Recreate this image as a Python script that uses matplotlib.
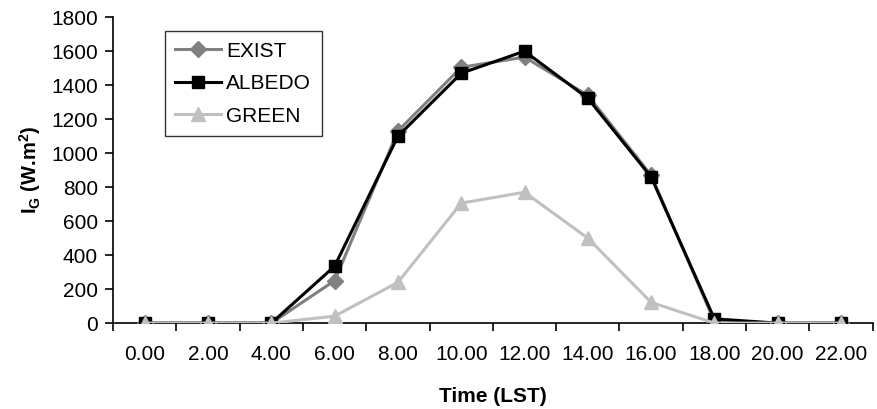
import matplotlib
matplotlib.use("Agg")
import matplotlib.pyplot as plt
import numpy as np

categories = ["0.00", "2.00", "4.00", "6.00", "8.00", "10.00", "12.00",
              "14.00", "16.00", "18.00", "20.00", "22.00"]
exist = [0, 0, 0, 250, 1130, 1505, 1565, 1340, 870, 10, 0, 0]
albedo = [0, 0, 0, 335, 1100, 1470, 1600, 1323, 860, 25, 0, 0]
green = [0, 0, 0, 41, 240, 706, 770, 500, 122, 0, 0, 0]

plt.rcParams['font.family'] = ['Liberation Sans', 'DejaVu Sans']
plt.rcParams['mathtext.fontset'] = 'custom'
plt.rcParams['mathtext.rm'] = 'Liberation Sans'
plt.rcParams['mathtext.bf'] = 'Liberation Sans:bold'

fig = plt.figure(figsize=(8.77, 4.09), dpi=100)
ax = fig.add_axes([0.129, 0.210, 0.866, 0.748])

x = np.arange(len(categories))
ax.plot(x, exist, color='#808080', lw=2.2, marker='D', ms=8, label='EXIST', zorder=3)
ax.plot(x, albedo, color='black', lw=2.2, marker='s', ms=9, label='ALBEDO', zorder=4)
ax.plot(x, green, color='#c0c0c0', lw=2.2, marker='^', ms=10, label='GREEN', zorder=5)

ax.set_xlim(-0.5, len(categories) - 0.5)
ax.set_ylim(0, 1800)
ax.set_yticks(np.arange(0, 1801, 200))
ax.set_xticks(np.arange(-0.5, len(categories) - 0.4, 1))
ax.set_xticklabels([])
ax.set_xticks(x, minor=True)
ax.set_xticklabels(categories, minor=True)
ax.tick_params(axis='x', which='minor', length=0, pad=16, labelsize=15)
ax.tick_params(axis='x', which='major', length=6, width=1.2, direction='out')
ax.tick_params(axis='y', length=6, width=1.2, direction='out', labelsize=15, pad=5)

for s in ['top', 'right']:
    ax.spines[s].set_visible(False)
for s in ['left', 'bottom']:
    ax.spines[s].set_linewidth(1.2)

ax.set_xlabel('Time (LST)', fontsize=15, fontweight='bold', labelpad=16)
ax.set_ylabel(r'I$_{\mathbf{G}}$ (W.m$^{\mathbf{2}}$)', fontsize=14.5,
              fontweight='bold', labelpad=6)

leg = ax.legend(loc='upper left', bbox_to_anchor=(0.068, 0.954), frameon=True,
                fancybox=False, edgecolor='black', fontsize=15,
                handlelength=2.2, handletextpad=0.25, borderpad=0.5,
                labelspacing=0.65, borderaxespad=0)
leg.get_frame().set_linewidth(1.0)

fig.savefig('out.png', dpi=100)
